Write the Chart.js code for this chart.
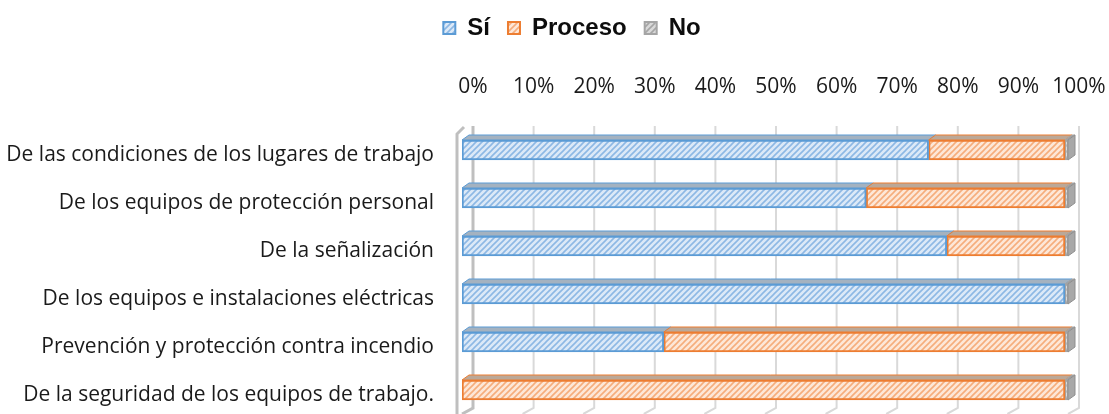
<!DOCTYPE html>
<html>
<head>
<meta charset="utf-8">
<script src="https://cdn.jsdelivr.net/npm/chart.js@4/dist/chart.umd.min.js"></script>
<style>
  body { margin: 0; background: #fff; }
  #wrap { width: 1109px; height: 414px; position: relative; }
</style>
</head>
<body>
<div id="wrap"><canvas id="chart"></canvas></div>
<script>
// datos
const categories = [
    'De las condiciones de los lugares de trabajo',
    'De los equipos de protección personal',
    'De la señalización',
    'De los equipos e instalaciones eléctricas',
    'Prevención y protección contra incendio',
    'De la seguridad de los equipos de trabajo.'
];
const seriesNames = ['Sí', 'Proceso', 'No'];
const siValues = [77, 66.7, 80, 99.5, 33.3, 0];
const procesoValues = [22.5, 32.8, 19.5, 0, 66.2, 99.5];
const noValues = [0.5, 0.5, 0.5, 0.5, 0.5, 0.5];
const xTicks = [0, 10, 20, 30, 40, 50, 60, 70, 80, 90, 100];

// trama rayada
function makePattern(bg, stripe) {
    const c = document.createElement('canvas');
    c.width = 6; c.height = 6;
    const g = c.getContext('2d');
    g.fillStyle = bg;
    g.fillRect(0, 0, 6, 6);
    g.strokeStyle = stripe;
    g.lineWidth = 1.6;
    g.beginPath();
    g.moveTo(-1, 7); g.lineTo(7, -1);
    g.moveTo(-1, 1); g.lineTo(1, -1);
    g.moveTo(5, 7); g.lineTo(7, 5);
    g.stroke();
    return g.createPattern(c, 'repeat');
}

const borderColors = ['#5b9bd5', '#ed7d31', '#a5a5a5'];
const fills = [
    makePattern('#dce9f7', '#8db8e4'),
    makePattern('#fde7d8', '#f5ad7c'),
    makePattern('#d9d9d9', '#a5a5a5')
];
const topColors = ['#a4b2c0', '#bba898', '#9e9e9e'];
const DX = 7, DY = 5;

// pared y cuadrícula en 3D
const grid3d = {
    id: 'grid3d',
    beforeDatasetsDraw(chart) {
        const ctx = chart.ctx;
        const xs = chart.scales.x;
        const a = chart.chartArea;
        ctx.save();
        xTicks.forEach(v => {
            const px = xs.getPixelForValue(v);
            const bx = px + 11;
            ctx.beginPath();
            if (v === 0) {
                ctx.strokeStyle = '#bfbfbf';
                ctx.lineWidth = 3;
                ctx.moveTo(px - 5, a.bottom);
                ctx.lineTo(px - 5, a.top + 8);
                ctx.lineTo(px + 2, a.top + 1);
                ctx.stroke();
                ctx.beginPath();
                ctx.moveTo(bx, a.top);
                ctx.lineTo(bx, a.bottom - 6);
                ctx.lineTo(px, a.bottom);
            } else {
                ctx.strokeStyle = '#d9d9d9';
                ctx.lineWidth = 2;
                ctx.moveTo(bx, a.top);
                ctx.lineTo(bx, a.bottom - 6);
                ctx.lineTo(px, a.bottom);
            }
            ctx.stroke();
        });
        ctx.restore();
    },
    afterDatasetsDraw(chart) {
        const ctx = chart.ctx;
        ctx.save();
        chart.data.datasets.forEach((ds, i) => {
            const meta = chart.getDatasetMeta(i);
            meta.data.forEach(el => {
                const p = el.getProps(['x', 'y', 'base', 'height'], true);
                const left = Math.min(p.x, p.base);
                const right = Math.max(p.x, p.base);
                if (right - left < 0.5) return;
                const top = p.y - p.height / 2;
                const bottom = p.y + p.height / 2;
                ctx.beginPath();
                ctx.moveTo(left, top);
                ctx.lineTo(left + DX, top - DY);
                ctx.lineTo(right + DX, top - DY);
                ctx.lineTo(right, top);
                ctx.closePath();
                ctx.fillStyle = topColors[i];
                ctx.fill();
                ctx.strokeStyle = borderColors[i];
                ctx.lineWidth = 1;
                ctx.stroke();
                if (i === chart.data.datasets.length - 1) {
                    ctx.beginPath();
                    ctx.moveTo(right, top);
                    ctx.lineTo(right + DX, top - DY);
                    ctx.lineTo(right + DX, bottom - DY);
                    ctx.lineTo(right, bottom);
                    ctx.closePath();
                    ctx.fillStyle = '#a8a8a8';
                    ctx.fill();
                    ctx.strokeStyle = '#8f8f8f';
                    ctx.stroke();
                }
            });
        });
        ctx.restore();
    }
};

// altura fija de la leyenda y desplazamiento
const LEGEND_SHIFT = 38;
const legendFix = {
    id: 'legendFix',
    beforeInit(chart) {
        const orig = chart.legend.fit;
        chart.legend.fit = function () {
            orig.bind(chart.legend)();
            this.height = 60;
        };
    },
    afterLayout(chart) {
        chart.legend.left += LEGEND_SHIFT;
        chart.legend.right += LEGEND_SHIFT;
        chart.legend.top -= 2;
        chart.legend.bottom -= 2;
    }
};

const values = [siValues, procesoValues, noValues];

new Chart(document.getElementById('chart'), {
    type: 'bar',
    data: {
        labels: categories,
        datasets: values.map((v, i) => ({
            label: seriesNames[i],
            data: v,
            backgroundColor: fills[i],
            borderColor: borderColors[i],
            borderWidth: 2,
            borderSkipped: false,
            barThickness: 20
        }))
    },
    options: {
        indexAxis: 'y',
        responsive: true,
        maintainAspectRatio: false,
        animation: false,
        layout: { padding: { left: 0, right: 41, top: 0, bottom: 0 } },
        plugins: {
            legend: {
                position: 'top',
                labels: {
                    boxWidth: 12,
                    boxHeight: 12,
                    padding: 18,
                    color: '#0d0d0d',
                    font: { family: '"Liberation Sans", Arial, sans-serif', size: 24, weight: 'bold' }
                }
            },
            tooltip: { enabled: false }
        },
        scales: {
            x: {
                position: 'top',
                stacked: true,
                min: 0,
                max: 100,
                grid: { display: false, drawTicks: false },
                border: { display: false },
                afterFit: s => {
                    s.height = 66;
                    s.paddingLeft = 0;
                    s.paddingRight = 0;
                },
                ticks: {
                    stepSize: 10,
                    autoSkip: false,
                    maxRotation: 0,
                    labelOffset: 11,
                    padding: 26,
                    color: '#1a1a1a',
                    font: { family: '"Open Sans", sans-serif', size: 21 },
                    callback: v => v + '%'
                }
            },
            y: {
                stacked: true,
                grid: { display: false, drawTicks: false },
                border: { display: false },
                afterFit: s => {
                    s.width = 462;
                    s.paddingTop = 0;
                    s.paddingBottom = 0;
                },
                ticks: {
                    padding: 28,
                    labelOffset: 5,
                    color: '#1a1a1a',
                    font: { family: '"Open Sans", sans-serif', size: 21 }
                }
            }
        }
    },
    plugins: [grid3d, legendFix]
});
</script>
</body>
</html>
